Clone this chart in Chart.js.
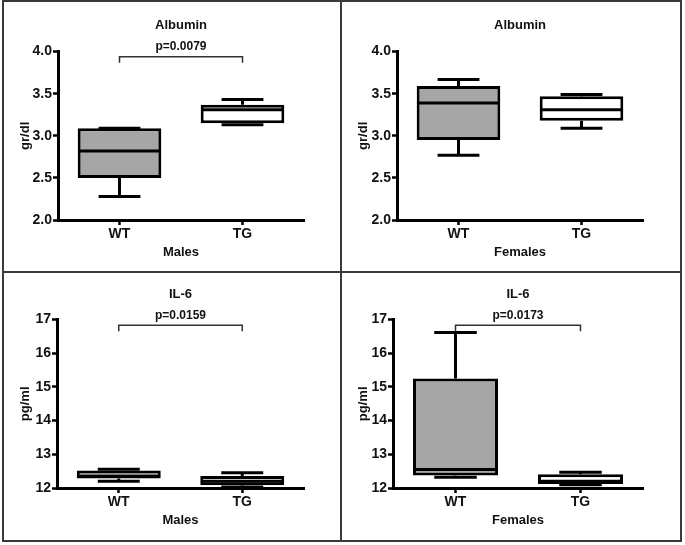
<!DOCTYPE html>
<html>
<head>
<meta charset="utf-8">
<script src="https://cdn.jsdelivr.net/npm/chart.js@4.4.1/dist/chart.umd.min.js"></script>
<style>
  body { margin: 0; background: #fff; }
  #sheet { position: relative; width: 685px; height: 545px; }
  #sheet canvas { position: absolute; }
  .frame { position: absolute; left: 2px; top: 0; width: 680px; height: 542px; border: 2px solid #3a3a3a; box-sizing: border-box; }
  .vline { position: absolute; left: 340px; top: 0; width: 2px; height: 542px; background: #3a3a3a; }
  .hline { position: absolute; left: 2px; top: 271px; width: 680px; height: 2px; background: #3a3a3a; }
</style>
</head>
<body>
<div id="sheet">
  <canvas id="c0" width="336" height="269" style="left:4px;top:2px"></canvas>
  <canvas id="c1" width="338" height="269" style="left:342px;top:2px"></canvas>
  <canvas id="c2" width="336" height="266" style="left:4px;top:273px"></canvas>
  <canvas id="c3" width="338" height="266" style="left:342px;top:273px"></canvas>
  <div class="frame"></div>
  <div class="vline"></div>
  <div class="hline"></div>
</div>
<script>
// groups on the x axis
const groups = ['WT', 'TG'];

// box stats per group: [min, q1, median, q3, max]
const albuminMales   = [[2.28, 2.50, 2.82, 3.09, 3.09], [3.13, 3.15, 3.31, 3.37, 3.43]];
const albuminFemales = [[2.77, 2.95, 3.39, 3.59, 3.67], [3.09, 3.18, 3.31, 3.47, 3.49]];
const il6Males       = [[12.20, 12.28, 12.35, 12.52, 12.56], [12.03, 12.08, 12.20, 12.36, 12.45]];
const il6Females     = [[12.32, 12.37, 12.55, 15.25, 16.62], [12.10, 12.12, 12.20, 12.41, 12.47]];

// panel texts
const panelTitles = ['Albumin', 'Albumin', 'IL-6', 'IL-6'];
const panelSexes  = ['Males', 'Females', 'Males', 'Females'];
const panelUnits  = ['gr/dl', 'gr/dl', 'pg/ml', 'pg/ml'];
const pValues     = ['p=0.0079', null, 'p=0.0159', 'p=0.0173'];
const bracketLevels = [3.94, null, 16.83, 16.83];

// y axis ranges: [min, max, step, decimals]
const albuminAxis = [2, 4, 0.5, 1];
const il6Axis     = [12, 17, 1, 0];

const FONT = '"Liberation Sans", Arial, Helvetica, sans-serif';
Chart.defaults.font.family = FONT;
Chart.defaults.font.weight = 'bold';
Chart.defaults.color = '#111';

// whiskers, median, significance bracket
const boxExtras = {
  id: 'boxExtras',
  beforeDatasetsDraw(chart, args, opts) {
    const { ctx, scales: { y } } = chart;
    const meta = chart.getDatasetMeta(0);
    ctx.save();
    ctx.strokeStyle = '#000';
    ctx.lineWidth = 3;
    opts.stats.forEach((s, i) => {
      const bar = meta.data[i];
      const cx = bar.x, cap = bar.width / 4;
      const yMin = y.getPixelForValue(s[0]);
      const yQ1 = y.getPixelForValue(s[1]);
      const yQ3 = y.getPixelForValue(s[3]);
      const yMax = y.getPixelForValue(s[4]);
      ctx.beginPath();
      ctx.moveTo(cx, yQ3); ctx.lineTo(cx, yMax);
      ctx.moveTo(cx - cap, yMax); ctx.lineTo(cx + cap, yMax);
      ctx.moveTo(cx, yQ1); ctx.lineTo(cx, yMin);
      ctx.moveTo(cx - cap, yMin); ctx.lineTo(cx + cap, yMin);
      ctx.stroke();
    });
    ctx.restore();
  },
  afterDatasetsDraw(chart, args, opts) {
    const { ctx, scales: { x, y } } = chart;
    const meta = chart.getDatasetMeta(0);
    ctx.save();
    ctx.strokeStyle = '#000';
    ctx.lineWidth = 3;
    opts.stats.forEach((s, i) => {
      const bar = meta.data[i];
      const half = bar.width / 2 - 1.5;
      const yMed = y.getPixelForValue(s[2]);
      ctx.beginPath();
      ctx.moveTo(bar.x - half, yMed); ctx.lineTo(bar.x + half, yMed);
      ctx.stroke();
    });
    if (opts.bracket != null) {
      const yb = y.getPixelForValue(opts.bracket);
      const x0 = x.getPixelForValue(0), x1 = x.getPixelForValue(1);
      ctx.strokeStyle = '#333';
      ctx.lineWidth = 1.5;
      ctx.beginPath();
      ctx.moveTo(x0, yb + 6); ctx.lineTo(x0, yb); ctx.lineTo(x1, yb); ctx.lineTo(x1, yb + 6);
      ctx.stroke();
      ctx.fillStyle = '#111';
      ctx.font = 'bold 12px ' + FONT;
      ctx.textAlign = 'center';
      ctx.textBaseline = 'middle';
      ctx.fillText(opts.pText, (x0 + x1) / 2, yb - 10);
    }
    ctx.restore();
  }
};

// per panel layout (pixels)
const axisWidths = [54, 55, 53, 51];
const rightPads  = [36, 37, 36, 37];
const titlePads  = [{ top: 16, bottom: 18 }, { top: 16, bottom: 18 }, { top: 14, bottom: 17 }, { top: 14, bottom: 17 }];

const panelStats = [albuminMales, albuminFemales, il6Males, il6Females];
const panelAxes  = [albuminAxis, albuminAxis, il6Axis, il6Axis];

function makePanel(i) {
  const stats = panelStats[i];
  const axis = panelAxes[i];
  const ctx = document.getElementById('c' + i).getContext('2d');
  return new Chart(ctx, {
    type: 'bar',
    data: {
      labels: groups,
      datasets: [{
        data: stats.map(s => [s[1], s[3]]),
        backgroundColor: ['#a6a6a6', '#ffffff'],
        borderColor: '#000',
        borderWidth: 3,
        borderSkipped: false,
        barPercentage: 0.68,
        categoryPercentage: 1
      }]
    },
    options: {
      responsive: false,
      animation: false,
      devicePixelRatio: 1,
      layout: { padding: { left: 0, right: rightPads[i], top: 0, bottom: 0 } },
      plugins: {
        legend: { display: false },
        tooltip: { enabled: false },
        title: {
          display: true,
          text: panelTitles[i],
          fullSize: false,
          font: { size: 13, weight: 'bold' },
          color: '#111',
          padding: titlePads[i]
        },
        boxExtras: { stats: stats, bracket: bracketLevels[i], pText: pValues[i] }
      },
      scales: {
        x: {
          offset: true,
          grid: { offset: false, drawOnChartArea: false, tickLength: 5, tickWidth: 2.5, tickColor: '#000' },
          border: { width: 3, color: '#000' },
          ticks: { font: { size: 14, weight: 'bold' }, color: '#111', padding: 1 },
          title: { display: true, text: panelSexes[i], font: { size: 13, weight: 'bold' }, color: '#111', padding: { top: 0, bottom: 11 } },
          afterFit: s => { s.height = 51; }
        },
        y: {
          min: axis[0],
          max: axis[1],
          grid: { drawOnChartArea: false, tickLength: 5, tickWidth: 2.5, tickColor: '#000' },
          border: { width: 3, color: '#000' },
          ticks: {
            stepSize: axis[2],
            padding: 1,
            font: { size: 14, weight: 'bold' },
            color: '#111',
            callback: v => Number(v).toFixed(axis[3])
          },
          title: { display: true, text: panelUnits[i], font: { size: 13, weight: 'bold' }, color: '#111', padding: { top: 14, bottom: 0 } },
          afterFit: s => { s.width = axisWidths[i]; }
        }
      }
    },
    plugins: [boxExtras]
  });
}

[0, 1, 2, 3].forEach(makePanel);
</script>
</body>
</html>
